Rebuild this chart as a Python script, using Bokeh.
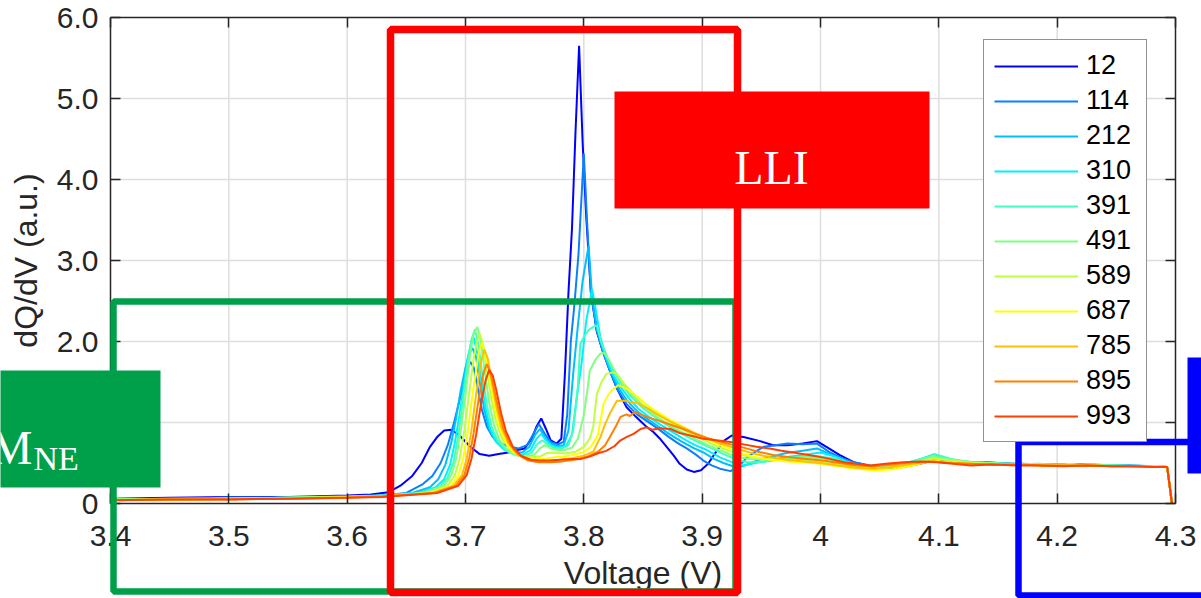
from bokeh.plotting import figure
from bokeh.models import (Range1d, FixedTicker, LinearAxis, BoxAnnotation, Label,
                          CustomJSTickFormatter)
from bokeh.embed import file_html
from bokeh.resources import INLINE

# ---------------- data ----------------
cycles = ["12", "114", "212", "310", "391", "491", "589", "687", "785", "895", "993"]

V_12 = [3.40, 3.45, 3.50, 3.55, 3.60, 3.62, 3.635, 3.645, 3.655, 3.663, 3.670, 3.676, 3.682, 3.688,
        3.695, 3.704, 3.712, 3.720, 3.728, 3.736, 3.744, 3.750, 3.756, 3.760, 3.764, 3.768, 3.772,
        3.777, 3.781, 3.784, 3.787, 3.790, 3.793, 3.796, 3.799, 3.802, 3.806, 3.811, 3.816, 3.822,
        3.828, 3.836, 3.844, 3.852, 3.859, 3.865, 3.870, 3.876, 3.881, 3.887, 3.893, 3.899, 3.905,
        3.910, 3.918, 3.925, 3.935, 3.949, 3.960, 3.972, 3.985, 3.997, 4.005, 4.016, 4.028, 4.042,
        4.056, 4.070, 4.084, 4.095, 4.110, 4.125, 4.140, 4.160, 4.180, 4.200, 4.220, 4.240, 4.260,
        4.280, 4.293, 4.297]
Q_12 = [0.06, 0.07, 0.08, 0.08, 0.10, 0.11, 0.14, 0.22, 0.34, 0.50, 0.70, 0.82, 0.90, 0.91,
        0.84, 0.70, 0.61, 0.59, 0.61, 0.63, 0.66, 0.68, 0.80, 0.95, 1.05, 0.92, 0.78,
        0.74, 0.80, 1.60, 2.60, 3.40, 4.60, 5.65, 4.45, 3.55, 2.60, 2.12, 1.88, 1.64,
        1.42, 1.19, 1.07, 0.96, 0.88, 0.79, 0.70, 0.59, 0.49, 0.42, 0.39, 0.41, 0.49,
        0.60, 0.77, 0.84, 0.82, 0.77, 0.72, 0.72, 0.74, 0.77, 0.70, 0.60, 0.51, 0.46,
        0.43, 0.45, 0.49, 0.53, 0.52, 0.50, 0.51, 0.49, 0.48, 0.47, 0.48, 0.47, 0.47,
        0.46, 0.45, 0.0]

V_114 = [3.40, 3.45, 3.50, 3.55, 3.60, 3.63, 3.650, 3.664, 3.672, 3.679, 3.685, 3.690, 3.694, 3.698,
         3.701, 3.704, 3.707, 3.710, 3.714, 3.718, 3.723, 3.730, 3.738, 3.745, 3.752, 3.757, 3.762,
         3.767, 3.772, 3.778, 3.783, 3.786, 3.789, 3.792, 3.7955, 3.800, 3.803, 3.806, 3.811, 3.816,
         3.822, 3.828, 3.836, 3.845, 3.853, 3.862, 3.872, 3.880, 3.887, 3.895, 3.901, 3.908, 3.915,
         3.924, 3.931, 3.938, 3.945, 3.952, 3.962, 3.972, 3.985, 3.997, 4.008, 4.018, 4.028, 4.042,
         4.056, 4.070, 4.085, 4.095, 4.108, 4.125, 4.145, 4.165, 4.185, 4.205, 4.225, 4.245, 4.265,
         4.282, 4.293, 4.297]
Q_114 = [0.05, 0.06, 0.07, 0.07, 0.09, 0.10, 0.13, 0.24, 0.34, 0.50, 0.72, 0.98, 1.22, 1.45,
         1.63, 1.75, 1.68, 1.45, 1.15, 0.95, 0.82, 0.74, 0.70, 0.68, 0.72, 0.85, 0.98,
         0.86, 0.76, 0.73, 0.76, 1.10, 2.00, 2.45, 3.08, 4.32, 3.40, 2.60, 2.14, 1.88,
         1.64, 1.42, 1.23, 1.10, 1.02, 0.93, 0.82, 0.74, 0.68, 0.60, 0.53, 0.47, 0.43,
         0.40, 0.46, 0.57, 0.64, 0.70, 0.72, 0.74, 0.73, 0.74, 0.63, 0.56, 0.51, 0.47,
         0.45, 0.47, 0.52, 0.57, 0.53, 0.51, 0.50, 0.49, 0.48, 0.48, 0.47, 0.47, 0.46,
         0.46, 0.45, 0.0]

V_212 = [3.40, 3.45, 3.50, 3.55, 3.60, 3.63, 3.655, 3.670, 3.677, 3.683, 3.688, 3.692, 3.696, 3.700,
         3.703, 3.706, 3.709, 3.712, 3.716, 3.720, 3.725, 3.732, 3.740, 3.748, 3.754, 3.759, 3.763,
         3.767, 3.772, 3.778, 3.783, 3.787, 3.791, 3.795, 3.799, 3.804, 3.807, 3.811, 3.816, 3.822,
         3.828, 3.836, 3.845, 3.853, 3.862, 3.872, 3.882, 3.892, 3.901, 3.910, 3.918, 3.926, 3.932,
         3.940, 3.948, 3.957, 3.970, 3.985, 3.997, 4.011, 4.022, 4.034, 4.048, 4.062, 4.078, 4.095,
         4.110, 4.130, 4.150, 4.170, 4.190, 4.210, 4.230, 4.250, 4.270, 4.285, 4.293, 4.297]
Q_212 = [0.05, 0.06, 0.07, 0.07, 0.09, 0.10, 0.13, 0.20, 0.30, 0.48, 0.75, 1.05, 1.40, 1.68,
         1.85, 1.92, 1.80, 1.50, 1.15, 0.92, 0.78, 0.68, 0.63, 0.63, 0.70, 0.85, 0.92,
         0.82, 0.74, 0.71, 0.72, 0.90, 1.60, 2.20, 2.75, 3.18, 2.55, 2.15, 1.90, 1.66,
         1.46, 1.28, 1.14, 1.05, 0.96, 0.86, 0.77, 0.69, 0.63, 0.55, 0.50, 0.46, 0.45,
         0.49, 0.54, 0.57, 0.62, 0.65, 0.68, 0.59, 0.52, 0.47, 0.45, 0.46, 0.50, 0.58,
         0.53, 0.51, 0.49, 0.49, 0.48, 0.47, 0.48, 0.47, 0.46, 0.46, 0.45, 0.0]

V_310 = [3.40, 3.45, 3.50, 3.55, 3.60, 3.63, 3.660, 3.675, 3.682, 3.687, 3.691, 3.695, 3.699, 3.702,
         3.705, 3.707, 3.710, 3.713, 3.717, 3.721, 3.726, 3.733, 3.741, 3.748, 3.755, 3.760, 3.764,
         3.768, 3.773, 3.779, 3.785, 3.790, 3.794, 3.798, 3.802, 3.807, 3.810, 3.814, 3.819, 3.825,
         3.831, 3.838, 3.846, 3.855, 3.864, 3.874, 3.884, 3.894, 3.904, 3.915, 3.925, 3.935, 3.945,
         3.957, 3.970, 3.985, 4.000, 4.012, 4.028, 4.042, 4.056, 4.070, 4.085, 4.096, 4.108, 4.125,
         4.145, 4.165, 4.185, 4.205, 4.225, 4.245, 4.265, 4.283, 4.293, 4.297]
Q_310 = [0.05, 0.06, 0.06, 0.07, 0.08, 0.10, 0.13, 0.20, 0.30, 0.48, 0.75, 1.10, 1.50, 1.80,
         2.00, 2.05, 1.85, 1.55, 1.18, 0.92, 0.76, 0.66, 0.61, 0.60, 0.66, 0.80, 0.86,
         0.78, 0.71, 0.69, 0.71, 0.85, 1.30, 1.72, 2.25, 2.65, 2.40, 2.05, 1.80, 1.58,
         1.44, 1.30, 1.17, 1.07, 0.98, 0.89, 0.80, 0.72, 0.66, 0.57, 0.51, 0.47, 0.50,
         0.53, 0.57, 0.60, 0.63, 0.58, 0.49, 0.45, 0.45, 0.49, 0.55, 0.61, 0.55, 0.51,
         0.50, 0.48, 0.49, 0.47, 0.48, 0.47, 0.47, 0.46, 0.45, 0.0]

V_391 = [3.40, 3.45, 3.50, 3.55, 3.60, 3.63, 3.662, 3.678, 3.685, 3.690, 3.694, 3.698, 3.702, 3.705,
         3.708, 3.711, 3.714, 3.718, 3.722, 3.727, 3.734, 3.742, 3.750, 3.756, 3.761, 3.765, 3.770,
         3.776, 3.782, 3.787, 3.791, 3.795, 3.797, 3.801, 3.804, 3.808, 3.811, 3.815, 3.820, 3.826,
         3.833, 3.840, 3.849, 3.858, 3.868, 3.878, 3.888, 3.898, 3.908, 3.918, 3.928, 3.938, 3.950,
         3.965, 3.980, 3.995, 4.010, 4.028, 4.042, 4.058, 4.075, 4.090, 4.097, 4.110, 4.128, 4.148,
         4.168, 4.188, 4.208, 4.228, 4.248, 4.268, 4.284, 4.293, 4.297]
Q_391 = [0.05, 0.05, 0.06, 0.07, 0.08, 0.10, 0.13, 0.20, 0.32, 0.52, 0.85, 1.30, 1.75, 2.02,
         2.15, 1.95, 1.62, 1.22, 0.95, 0.78, 0.66, 0.60, 0.59, 0.63, 0.74, 0.78, 0.72,
         0.68, 0.68, 0.72, 0.90, 1.45, 1.97, 2.08, 2.14, 2.18, 2.20, 1.98, 1.80, 1.60,
         1.45, 1.32, 1.19, 1.09, 0.99, 0.90, 0.82, 0.75, 0.68, 0.61, 0.55, 0.51, 0.51,
         0.54, 0.57, 0.59, 0.56, 0.48, 0.45, 0.46, 0.51, 0.57, 0.61, 0.55, 0.51, 0.50,
         0.48, 0.48, 0.47, 0.48, 0.47, 0.46, 0.46, 0.45, 0.0]

V_491 = [3.40, 3.45, 3.50, 3.55, 3.60, 3.63, 3.665, 3.682, 3.688, 3.692, 3.696, 3.700, 3.704, 3.707,
         3.710, 3.713, 3.716, 3.720, 3.724, 3.729, 3.736, 3.744, 3.752, 3.758, 3.763, 3.767, 3.772,
         3.778, 3.784, 3.790, 3.795, 3.7997, 3.803, 3.805, 3.810, 3.814, 3.817, 3.821, 3.826, 3.833,
         3.840, 3.849, 3.858, 3.868, 3.878, 3.888, 3.898, 3.908, 3.918, 3.928, 3.940, 3.955, 3.970,
         3.985, 4.000, 4.015, 4.030, 4.045, 4.060, 4.078, 4.095, 4.110, 4.128, 4.148, 4.168, 4.188,
         4.208, 4.228, 4.248, 4.268, 4.284, 4.293, 4.297]
Q_491 = [0.05, 0.05, 0.06, 0.07, 0.08, 0.09, 0.13, 0.22, 0.35, 0.55, 0.90, 1.35, 1.85, 2.10,
         2.18, 2.00, 1.65, 1.25, 0.97, 0.78, 0.65, 0.59, 0.58, 0.60, 0.68, 0.72, 0.68,
         0.66, 0.66, 0.69, 0.80, 1.07, 1.40, 1.64, 1.78, 1.85, 1.86, 1.78, 1.64, 1.48,
         1.35, 1.22, 1.11, 1.01, 0.92, 0.84, 0.77, 0.70, 0.64, 0.58, 0.55, 0.54, 0.55,
         0.57, 0.56, 0.52, 0.47, 0.44, 0.45, 0.50, 0.58, 0.54, 0.51, 0.49, 0.49, 0.48,
         0.47, 0.47, 0.47, 0.46, 0.46, 0.45, 0.0]

V_589 = [3.40, 3.45, 3.50, 3.55, 3.60, 3.63, 3.668, 3.685, 3.691, 3.695, 3.699, 3.703, 3.707, 3.710,
         3.712, 3.715, 3.718, 3.722, 3.726, 3.731, 3.738, 3.746, 3.755, 3.763, 3.768, 3.773, 3.779,
         3.786, 3.793, 3.800, 3.805, 3.808, 3.811, 3.815, 3.819, 3.825, 3.829, 3.834, 3.841, 3.850,
         3.859, 3.869, 3.879, 3.889, 3.899, 3.909, 3.919, 3.930, 3.942, 3.955, 3.970, 3.985, 4.000,
         4.015, 4.030, 4.045, 4.060, 4.078, 4.095, 4.110, 4.128, 4.148, 4.168, 4.188, 4.208, 4.228,
         4.248, 4.268, 4.284, 4.293, 4.297]
Q_589 = [0.05, 0.05, 0.06, 0.07, 0.08, 0.09, 0.13, 0.22, 0.35, 0.55, 0.90, 1.35, 1.80, 2.02,
         2.10, 1.95, 1.65, 1.28, 1.00, 0.80, 0.66, 0.59, 0.57, 0.58, 0.62, 0.63, 0.62,
         0.62, 0.64, 0.70, 0.80, 0.95, 1.35, 1.50, 1.60, 1.62, 1.58, 1.48, 1.37, 1.25,
         1.14, 1.04, 0.95, 0.87, 0.80, 0.73, 0.67, 0.61, 0.57, 0.55, 0.54, 0.54, 0.52,
         0.49, 0.45, 0.43, 0.44, 0.49, 0.56, 0.53, 0.50, 0.49, 0.48, 0.48, 0.47, 0.47,
         0.46, 0.46, 0.46, 0.45, 0.0]

V_687 = [3.40, 3.45, 3.50, 3.55, 3.60, 3.63, 3.670, 3.688, 3.694, 3.698, 3.702, 3.706, 3.710, 3.712,
         3.714, 3.717, 3.720, 3.724, 3.728, 3.733, 3.740, 3.748, 3.757, 3.766, 3.775, 3.783, 3.791,
         3.799, 3.806, 3.812, 3.8166, 3.821, 3.824, 3.829, 3.833, 3.838, 3.845, 3.853, 3.862, 3.872,
         3.882, 3.892, 3.902, 3.912, 3.922, 3.933, 3.945, 3.958, 3.972, 3.986, 4.000, 4.015, 4.030,
         4.045, 4.060, 4.078, 4.095, 4.110, 4.128, 4.148, 4.168, 4.188, 4.208, 4.228, 4.248, 4.268,
         4.284, 4.293, 4.297]
Q_687 = [0.04, 0.05, 0.06, 0.06, 0.08, 0.09, 0.13, 0.22, 0.35, 0.55, 0.90, 1.35, 1.75, 1.92,
         1.98, 1.85, 1.58, 1.25, 0.98, 0.78, 0.64, 0.57, 0.55, 0.55, 0.57, 0.58, 0.60,
         0.63, 0.70, 0.85, 1.23, 1.35, 1.40, 1.46, 1.44, 1.40, 1.32, 1.22, 1.13, 1.04,
         0.96, 0.88, 0.81, 0.74, 0.68, 0.62, 0.57, 0.54, 0.52, 0.51, 0.49, 0.46, 0.43,
         0.41, 0.42, 0.47, 0.53, 0.51, 0.49, 0.48, 0.48, 0.47, 0.47, 0.47, 0.46, 0.46,
         0.45, 0.45, 0.0]

V_785 = [3.40, 3.45, 3.50, 3.55, 3.60, 3.63, 3.672, 3.690, 3.697, 3.701, 3.705, 3.709, 3.713, 3.716,
         3.719, 3.722, 3.726, 3.730, 3.736, 3.743, 3.751, 3.760, 3.770, 3.780, 3.790, 3.800, 3.808,
         3.814, 3.818, 3.822, 3.828, 3.835, 3.840, 3.846, 3.853, 3.862, 3.872, 3.882, 3.892, 3.902,
         3.912, 3.922, 3.933, 3.945, 3.958, 3.972, 3.986, 4.000, 4.015, 4.030, 4.045, 4.060, 4.078,
         4.095, 4.110, 4.128, 4.148, 4.168, 4.188, 4.208, 4.228, 4.248, 4.268, 4.284, 4.293, 4.297]
Q_785 = [0.04, 0.05, 0.06, 0.06, 0.08, 0.09, 0.13, 0.22, 0.35, 0.55, 0.90, 1.35, 1.75, 1.90,
         1.78, 1.52, 1.20, 0.95, 0.75, 0.62, 0.55, 0.53, 0.53, 0.54, 0.56, 0.59, 0.64,
         0.82, 0.98, 1.11, 1.27, 1.27, 1.25, 1.24, 1.18, 1.10, 1.02, 0.95, 0.88, 0.82,
         0.76, 0.71, 0.66, 0.61, 0.57, 0.54, 0.52, 0.50, 0.47, 0.44, 0.43, 0.45, 0.49,
         0.52, 0.50, 0.49, 0.48, 0.48, 0.47, 0.47, 0.47, 0.46, 0.46, 0.45, 0.45, 0.0]

V_895 = [3.40, 3.45, 3.50, 3.55, 3.60, 3.63, 3.674, 3.692, 3.699, 3.703, 3.707, 3.711, 3.715, 3.718,
         3.721, 3.724, 3.728, 3.732, 3.738, 3.745, 3.753, 3.762, 3.772, 3.782, 3.792, 3.802, 3.812,
         3.818, 3.822, 3.827, 3.831, 3.836, 3.839, 3.843, 3.848, 3.855, 3.864, 3.874, 3.884, 3.894,
         3.904, 3.914, 3.924, 3.935, 3.947, 3.960, 3.974, 3.988, 4.002, 4.016, 4.030, 4.045, 4.060,
         4.078, 4.095, 4.110, 4.128, 4.148, 4.168, 4.188, 4.208, 4.228, 4.248, 4.268, 4.284, 4.293,
         4.297]
Q_895 = [0.04, 0.05, 0.05, 0.06, 0.07, 0.09, 0.13, 0.22, 0.35, 0.55, 0.88, 1.28, 1.60, 1.72,
         1.62, 1.42, 1.15, 0.92, 0.72, 0.60, 0.53, 0.51, 0.51, 0.52, 0.54, 0.57, 0.64,
         0.72, 0.82, 0.95, 1.07, 1.10, 1.08, 1.13, 1.10, 1.06, 1.02, 0.97, 0.92, 0.86,
         0.81, 0.77, 0.73, 0.69, 0.64, 0.60, 0.57, 0.55, 0.53, 0.50, 0.47, 0.46, 0.48,
         0.51, 0.52, 0.50, 0.49, 0.48, 0.48, 0.47, 0.47, 0.47, 0.46, 0.46, 0.45, 0.45,
         0.0]

V_993 = [3.40, 3.45, 3.50, 3.55, 3.60, 3.63, 3.676, 3.694, 3.701, 3.705, 3.709, 3.713, 3.717, 3.720,
         3.723, 3.726, 3.730, 3.734, 3.740, 3.747, 3.755, 3.763, 3.771, 3.780, 3.790, 3.797, 3.805,
         3.812, 3.819, 3.826, 3.831, 3.836, 3.842, 3.848, 3.853, 3.858, 3.864, 3.873, 3.881, 3.890,
         3.901, 3.912, 3.924, 3.935, 3.946, 3.957, 3.967, 3.977, 3.990, 4.005, 4.020, 4.030, 4.042,
         4.055, 4.070, 4.085, 4.098, 4.112, 4.127, 4.145, 4.166, 4.185, 4.205, 4.225, 4.245, 4.265,
         4.280, 4.293, 4.297]
Q_993 = [0.04, 0.05, 0.05, 0.06, 0.07, 0.08, 0.13, 0.22, 0.35, 0.55, 0.85, 1.22, 1.52, 1.65,
         1.58, 1.40, 1.12, 0.90, 0.70, 0.59, 0.54, 0.53, 0.53, 0.54, 0.55, 0.55, 0.58,
         0.62, 0.65, 0.71, 0.78, 0.82, 0.86, 0.92, 0.94, 0.91, 0.93, 0.92, 0.87, 0.84,
         0.80, 0.78, 0.76, 0.73, 0.70, 0.68, 0.65, 0.63, 0.60, 0.56, 0.51, 0.49, 0.47,
         0.49, 0.51, 0.52, 0.51, 0.49, 0.47, 0.48, 0.47, 0.47, 0.46, 0.47, 0.46, 0.46,
         0.45, 0.45, 0.0]

x_ticks = [3.4, 3.5, 3.6, 3.7, 3.8, 3.9, 4.0, 4.1, 4.2, 4.3]
x_tick_labels = ["3.4", "3.5", "3.6", "3.7", "3.8", "3.9", "4", "4.1", "4.2", "4.3"]
y_ticks = [0, 1, 2, 3, 4, 5, 6]
y_tick_labels = ["0", "1.0", "2.0", "3.0", "4.0", "5.0", "6.0"]

series_v = [V_12, V_114, V_212, V_310, V_391, V_491, V_589, V_687, V_785, V_895, V_993]
series_q = [Q_12, Q_114, Q_212, Q_310, Q_391, Q_491, Q_589, Q_687, Q_785, Q_895, Q_993]

# ---------------- styles / layout ----------------
colors = ["#0000FF", "#0A80FF", "#00BFFF", "#00F0FF", "#40FFBF", "#80FF80",
          "#BFFF40", "#FFFF00", "#FFBF00", "#FF8000", "#FF4000"]

W, H = 1201, 598
FL, FR, FT, FB = 110, 1175, 17, 503      # pixel edges of the axes box
X0, X1 = x_ticks[0], x_ticks[-1]
Y0, Y1 = y_ticks[0], y_ticks[-1]
INK = "#262626"
SANS = "Liberation Sans"
SERIF = "Liberation Serif"


def bx(px):
    return X0 + (px - FL) * (X1 - X0) / (FR - FL)


def by(py):
    return Y0 + (FB - py) * (Y1 - Y0) / (FB - FT)


# the drawing frame covers the whole canvas, so the overlay boxes can leave the axes box
p = figure(width=W, height=H, x_range=Range1d(bx(0), bx(W)), y_range=Range1d(by(H), by(0)),
           output_backend="svg", toolbar_location=None,
           min_border_left=0, min_border_right=0, min_border_top=0, min_border_bottom=0,
           background_fill_color="white", border_fill_color="white",
           x_axis_location=None, y_axis_location=None)
p.outline_line_color = None
p.xgrid.visible = False
p.ygrid.visible = False

# grid lines inside the axes box
p.segment(x0=x_ticks[1:-1], y0=[Y0] * (len(x_ticks) - 2), x1=x_ticks[1:-1],
          y1=[Y1] * (len(x_ticks) - 2), line_color="#DEDEDE", line_width=1.5)
p.segment(x0=[X0] * (len(y_ticks) - 2), y0=y_ticks[1:-1], x1=[X1] * (len(y_ticks) - 2),
          y1=y_ticks[1:-1], line_color="#DEDEDE", line_width=1.5)

for v, q, c, name in zip(series_v, series_q, colors, cycles):
    p.line(v, q, line_color=c, line_width=2, legend_label=name)


def make_axis(ticks, labels, loc, bounds, show):
    ax = LinearAxis(ticker=FixedTicker(ticks=ticks), fixed_location=loc, bounds=bounds,
                    major_tick_in=10, major_tick_out=0, minor_tick_line_color=None,
                    axis_line_color=INK, axis_line_width=1.5,
                    major_tick_line_color=INK, major_tick_line_width=1.5)
    if show:
        ax.major_label_overrides = {t: s for t, s in zip(ticks, labels)}
        ax.major_label_text_font = SANS
        ax.major_label_text_font_size = "30px"
        ax.major_label_text_color = INK
        ax.axis_label_text_font = SANS
        ax.axis_label_text_font_size = "32px"
        ax.axis_label_text_font_style = "normal"
        ax.axis_label_text_color = INK
    else:
        ax.formatter = CustomJSTickFormatter(code="return ''")
        ax.major_label_standoff = 0
    return ax


xa = make_axis(x_ticks, x_tick_labels, Y0, (X0, X1), True)
xa.axis_label = "Voltage (V)"
xa.major_label_standoff = 22
xa.axis_label_standoff = 6
ya = make_axis(y_ticks, y_tick_labels, X0, (Y0, Y1), True)
ya.axis_label = "dQ/dV (a.u.)"
ya.major_label_standoff = 12
ya.axis_label_standoff = 10
p.add_layout(xa, "below")
p.add_layout(ya, "left")
p.add_layout(make_axis(x_ticks, x_tick_labels, Y1, (X0, X1), False), "above")
p.add_layout(make_axis(y_ticks, y_tick_labels, X1, (Y0, Y1), False), "right")

# legend
lg = p.legend[0]
lg.location = (983, H - 442)
lg.margin = 0
lg.padding = 10
lg.spacing = 4
lg.glyph_width = 84
lg.glyph_height = 30
lg.label_height = 30
lg.label_width = 50
lg.label_standoff = 8
lg.label_text_font = SANS
lg.label_text_font_size = "27px"
lg.label_text_color = "#000000"
lg.border_line_color = INK
lg.border_line_width = 1.5
lg.background_fill_alpha = 1.0

GREEN = "#00A04B"
RED = "#FF0000"
BLUE = "#0000FF"

boxes = [
    dict(l=113, r=735, t=301, b=591, fill=None, line=GREEN, lw=6.5),
    dict(l=390, r=737, t=29, b=592, fill=None, line=RED, lw=7.5),
    dict(l=1018, r=1260, t=441.5, b=595, fill=None, line=BLUE, lw=6.5),
    dict(l=614, r=929, t=91, b=208, fill=RED, line=None, lw=0),
    dict(l=-30, r=160, t=370, b=487, fill=GREEN, line=None, lw=0),
    dict(l=1187, r=1260, t=357, b=473, fill=BLUE, line=None, lw=0),
]
for b in boxes:
    ba = BoxAnnotation(left=bx(b["l"]), right=bx(b["r"]), top=by(b["t"]), bottom=by(b["b"]),
                       fill_color=b["fill"], fill_alpha=1.0 if b["fill"] else 0.0,
                       line_color=b["line"], line_width=b["lw"], line_alpha=1.0,
                       level="overlay")
    p.add_layout(ba)

p.add_layout(Label(x=bx(771), y=by(167), text="LLI", text_align="center",
                   text_baseline="alphabetic", text_color="white", text_font=SERIF,
                   text_font_size="48px", level="overlay"))
p.add_layout(Label(x=bx(32), y=by(447), text="LAM", text_align="right",
                   text_baseline="alphabetic", text_color="white", text_font=SERIF,
                   text_font_size="48px", level="overlay"))
p.add_layout(Label(x=bx(33), y=by(458), text="NE", text_align="left",
                   text_baseline="alphabetic", text_color="white", text_font=SERIF,
                   text_font_size="34px", level="overlay"))

open("out.html", "w").write(file_html(p, INLINE))
